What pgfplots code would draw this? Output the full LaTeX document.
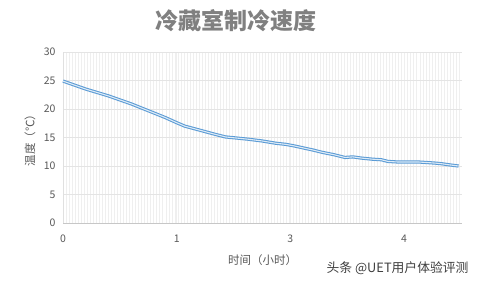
\documentclass[border=0pt]{standalone}
\usepackage{pgfplots}
\pgfplotsset{compat=1.18}
\usepackage{fontspec}
\setmainfont{Noto Sans CJK SC}
\newfontfamily\cjk{Noto Sans CJK SC}
\definecolor{txt}{HTML}{595959}
\definecolor{ttl}{HTML}{808080}
\definecolor{lineblue}{HTML}{5B9BD5}
\definecolor{lineinner}{HTML}{DDEBF7}
\definecolor{gridmaj}{HTML}{E4E4E4}
\definecolor{gridmin}{HTML}{EFEFEF}
\begin{document}
\begin{tikzpicture}[x=1pt,y=1pt]
\path[use as bounding box,fill=white] (0,0) rectangle (478,282);
\node[text=ttl,font=\fontsize{23}{25}\selectfont\bfseries] at (236,261) {冷藏室制冷速度};
\node[text=black!75,font=\fontsize{12.8}{14}\selectfont,anchor=east] at (472,14) {头条 @UET用户体验评测};
\begin{axis}[
  at={(63pt,59pt)}, anchor=south west,
  scale only axis, width=399pt, height=171pt,
  xmin=0, xmax=3.51, ymin=0, ymax=30,
  ytick={0,5,...,30},
  xtick={0,1,2,3}, xticklabels={0,1,3,4},
  minor xtick={0,0.0266,...,3.51},
  xmajorgrids, xminorgrids, ymajorgrids,
  major x grid style={gridmin, line width=0.6pt},
  minor x grid style={gridmin, line width=0.6pt},
  major y grid style={gridmaj, line width=0.6pt},
  axis x line*=bottom, axis y line*=left,
  x axis line style={draw=black!22, line width=0.8pt, -},
  y axis line style={draw=black!12, line width=0.6pt, -},
  major tick length=0pt, minor tick length=0pt,
  tick label style={text=txt, font=\fontsize{10.5}{12}\selectfont},
  /pgf/number format/assume math mode=true,
  xticklabel style={yshift=-8pt},
  yticklabel style={xshift=-4pt},
  xlabel={时间（小时）}, ylabel={温度（℃）},
  label style={text=txt, font=\fontsize{11.5}{13}\selectfont},
  xlabel style={at={(axis description cs:0.5,0)}, anchor=center, yshift=-37pt},
  ylabel style={at={(axis description cs:-0.083,0.5)}, anchor=center, rotate=0},
  clip=false,
]
\addplot[lineblue, line width=3.2pt, line join=round] coordinates {
(0,24.9) (0.1,24.2) (0.2,23.5) (0.3,22.9) (0.4,22.3) (0.5,21.6) (0.6,20.9)
(0.7,20.1) (0.8,19.3) (0.9,18.5) (1.0,17.6) (1.07,17.0) (1.22,16.2) (1.33,15.6)
(1.43,15.1) (1.53,14.9) (1.63,14.7) (1.75,14.4) (1.87,14.0) (1.96,13.8) (2.04,13.5)
(2.13,13.1) (2.2,12.8) (2.28,12.4) (2.38,12.0) (2.48,11.5) (2.55,11.6) (2.62,11.4)
(2.72,11.2) (2.80,11.1) (2.86,10.8) (2.95,10.7) (3.05,10.7) (3.13,10.7) (3.21,10.6)
(3.28,10.5) (3.33,10.4) (3.40,10.2) (3.48,10.0)
};
\addplot[lineinner, line width=1.1pt, line join=round] coordinates {
(0,24.9) (0.1,24.2) (0.2,23.5) (0.3,22.9) (0.4,22.3) (0.5,21.6) (0.6,20.9)
(0.7,20.1) (0.8,19.3) (0.9,18.5) (1.0,17.6) (1.07,17.0) (1.22,16.2) (1.33,15.6)
(1.43,15.1) (1.53,14.9) (1.63,14.7) (1.75,14.4) (1.87,14.0) (1.96,13.8) (2.04,13.5)
(2.13,13.1) (2.2,12.8) (2.28,12.4) (2.38,12.0) (2.48,11.5) (2.55,11.6) (2.62,11.4)
(2.72,11.2) (2.80,11.1) (2.86,10.8) (2.95,10.7) (3.05,10.7) (3.13,10.7) (3.21,10.6)
(3.28,10.5) (3.33,10.4) (3.40,10.2) (3.48,10.0)
};
\end{axis}
\end{tikzpicture}
\end{document}
